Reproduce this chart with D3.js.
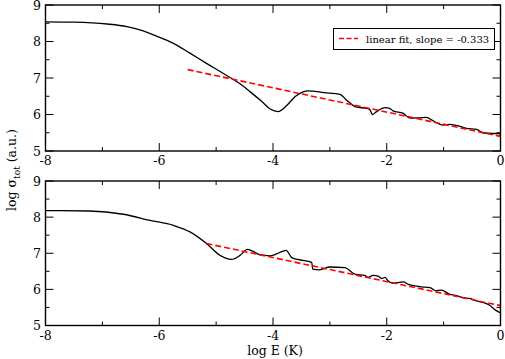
<!DOCTYPE html>
<html>
<head>
<meta charset="utf-8">
<script src="https://cdn.jsdelivr.net/npm/d3@7"></script>
<style>
body { margin: 0; background: #fff; }
</style>
</head>
<body>
<script>
// log sigma_tot vs log E, two panels
var topX = [-8, -7.51, -6.92, -6.57, -6.34, -6.05, -5.75, -5.46, -5.17, -4.88, -4.58, -4.4, -4.2, -4.05, -3.91, -3.75, -3.61, -3.47, -3.39, -3.1, -2.82, -2.71, -2.53, -2.36, -2.3, -2.25, -2.18, -2.03, -1.95, -1.89, -1.71, -1.59, -1.42, -1.3, -1.19, -1.01, -0.89, -0.72, -0.6, -0.42, -0.31, -0.13, -0.04, 0];
var topY = [8.54, 8.53, 8.48, 8.41, 8.32, 8.15, 7.95, 7.68, 7.40, 7.13, 6.84, 6.62, 6.36, 6.15, 6.08, 6.26, 6.49, 6.62, 6.65, 6.60, 6.55, 6.40, 6.20, 6.17, 6.14, 6.00, 6.08, 6.19, 6.17, 6.10, 6.03, 5.90, 5.91, 5.92, 5.83, 5.71, 5.73, 5.68, 5.62, 5.59, 5.50, 5.48, 5.48, 5.45];

var botX = [-8, -7.22, -6.63, -6.16, -5.75, -5.46, -5.17, -4.93, -4.73, -4.58, -4.45, -4.35, -4.23, -4.05, -3.82, -3.77, -3.67, -3.53, -3.32, -3.30, -3.18, -3.0, -2.74, -2.56, -2.38, -2.33, -2.24, -2.15, -2.09, -2.03, -1.98, -1.89, -1.71, -1.62, -1.48, -1.39, -1.24, -1.13, -1.04, -0.89, -0.77, -0.66, -0.54, -0.42, -0.31, -0.19, -0.10, 0];
var botY = [8.18, 8.17, 8.08, 7.91, 7.77, 7.59, 7.27, 6.94, 6.83, 6.94, 7.11, 7.05, 6.96, 6.93, 7.06, 7.08, 6.88, 6.82, 6.75, 6.56, 6.54, 6.62, 6.60, 6.42, 6.38, 6.33, 6.39, 6.37, 6.30, 6.33, 6.24, 6.17, 6.21, 6.14, 6.09, 6.07, 6.05, 5.96, 5.98, 5.86, 5.83, 5.77, 5.75, 5.68, 5.64, 5.56, 5.44, 5.35];

// linear fit lines (end points)
var fitTopX = [-5.5, 0];
var fitTopY = [7.23, 5.40];
var fitBotX = [-5.17, 0];
var fitBotY = [7.27, 5.55];

var legendLabel = "linear fit, slope = -0.333";
var xTicks = [-8, -6, -4, -2, 0];
var yTicks = [5, 6, 7, 8, 9];

var serif = "'DejaVu Serif', 'Liberation Serif', 'Noto Serif', serif";

var W = 505, H = 359;
var svg = d3.select("body").append("svg")
    .attr("width", W)
    .attr("height", H)
    .attr("font-family", serif);

var x = d3.scaleLinear().domain([-8, 0]).range([45.5, 500.5]);

function drawPanel(top, bottom, xs, ys, fx, fy, showLegend) {
    var y = d3.scaleLinear().domain([5, 9]).range([bottom, top]);
    var g = svg.append("g");

    // inward ticks on all four sides
    var minorX = d3.range(-8, 0.01, 1);
    var minorY = d3.range(5, 9.01, 0.5);
    minorX.forEach(function (v) {
        var len = (v % 2 == 0) ? 8 : 4;
        g.append("line").attr("x1", x(v)).attr("x2", x(v)).attr("y1", bottom).attr("y2", bottom - len).attr("stroke", "#000");
        g.append("line").attr("x1", x(v)).attr("x2", x(v)).attr("y1", top).attr("y2", top + len).attr("stroke", "#000");
    });
    minorY.forEach(function (v) {
        var len = (v % 1 == 0) ? 8 : 4;
        g.append("line").attr("x1", x(-8)).attr("x2", x(-8) + len).attr("y1", y(v)).attr("y2", y(v)).attr("stroke", "#000");
        g.append("line").attr("x1", x(0)).attr("x2", x(0) - len).attr("y1", y(v)).attr("y2", y(v)).attr("stroke", "#000");
    });

    g.selectAll(".xl").data(xTicks).enter().append("text")
        .attr("x", function (d) { return x(d); })
        .attr("y", bottom + 14)
        .attr("text-anchor", "middle")
        .style("font-size", "12.5px")
        .text(function (d) { return d; });

    g.selectAll(".yl").data(yTicks).enter().append("text")
        .attr("x", 41)
        .attr("y", function (d) { return y(d); })
        .attr("dy", "0.36em")
        .attr("text-anchor", "end")
        .style("font-size", "12.5px")
        .text(function (d) { return d; });

    var line = d3.line()
        .x(function (d) { return x(d[0]); })
        .y(function (d) { return y(d[1]); })
        .curve(d3.curveMonotoneX);

    g.append("path")
        .datum(d3.zip(xs, ys))
        .attr("d", line)
        .attr("fill", "none")
        .attr("stroke", "#000")
        .attr("stroke-width", 1.3);

    g.append("path")
        .datum(d3.zip(fx, fy))
        .attr("d", d3.line().x(function (d) { return x(d[0]); }).y(function (d) { return y(d[1]); }))
        .attr("fill", "none")
        .attr("stroke", "#ff0000")
        .attr("stroke-width", 1.6)
        .attr("stroke-dasharray", "6,3");

    g.append("rect")
        .attr("x", x(-8)).attr("y", top)
        .attr("width", x(0) - x(-8)).attr("height", bottom - top)
        .attr("fill", "none")
        .attr("stroke", "#000")
        .attr("stroke-width", 1.4);

    if (showLegend) {
        var lg = g.append("g");
        lg.append("rect")
            .attr("x", 333.5).attr("y", 28.5)
            .attr("width", 161).attr("height", 21)
            .attr("fill", "#fff").attr("stroke", "#000");
        lg.append("line")
            .attr("x1", 339).attr("x2", 358).attr("y1", 38.5).attr("y2", 38.5)
            .attr("stroke", "#ff0000").attr("stroke-width", 1.6)
            .attr("stroke-dasharray", "5,2.5");
        lg.append("text")
            .attr("x", 366).attr("y", 42.5)
            .style("font-size", "10px")
            .text(legendLabel);
    }
}

drawPanel(5, 151, topX, topY, fitTopX, fitTopY, true);
drawPanel(181, 325.5, botX, botY, fitBotX, fitBotY, false);

svg.append("text")
    .attr("x", 275).attr("y", 355)
    .attr("text-anchor", "middle")
    .style("font-size", "12.5px")
    .text("log E (K)");

var yl = svg.append("text")
    .attr("transform", "translate(16,170) rotate(-90)")
    .attr("text-anchor", "middle")
    .style("font-size", "12.5px");
yl.append("tspan").text("log σ");
yl.append("tspan").attr("dy", 4).style("font-size", "9px").text("tot");
yl.append("tspan").attr("dy", -4).text(" (a.u.)");
</script>
</body>
</html>
